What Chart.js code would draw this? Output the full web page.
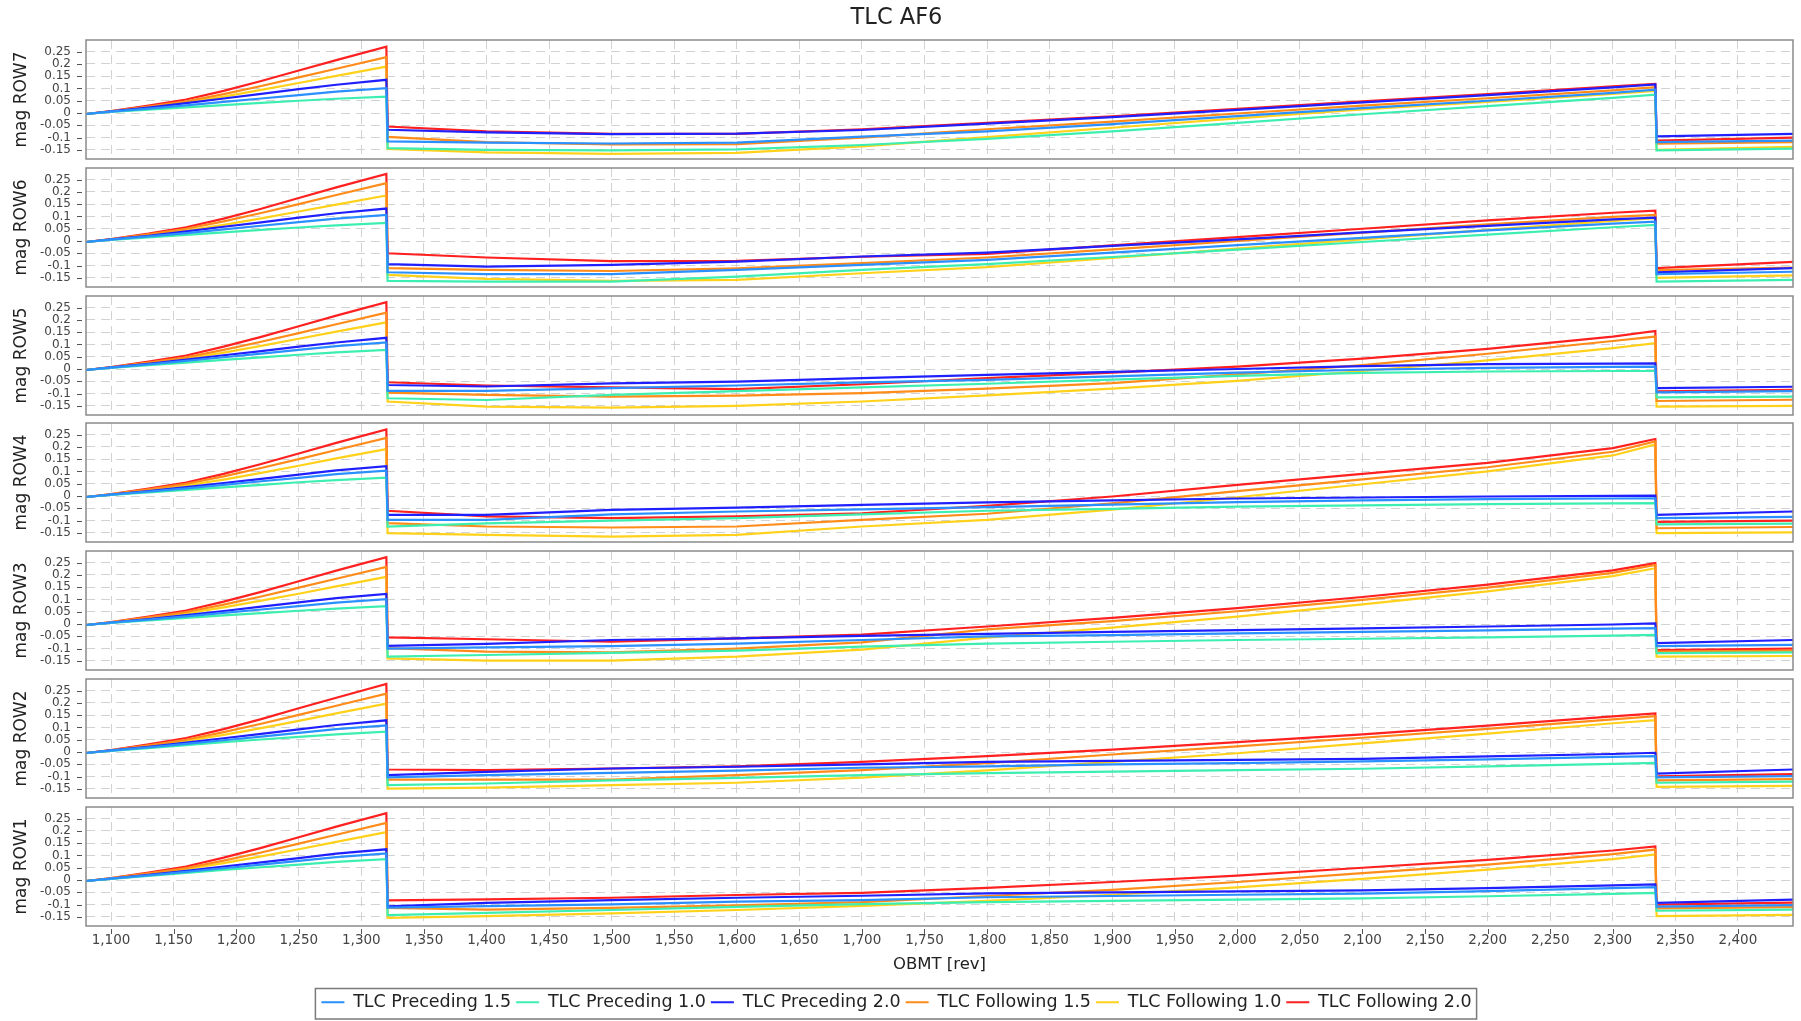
<!DOCTYPE html>
<html>
<head>
<meta charset="utf-8">
<title>TLC AF6</title>
<script src="https://cdn.jsdelivr.net/npm/chart.js@4.4.1/dist/chart.umd.min.js"></script>
<style>
  html, body { margin: 0; padding: 0; background: #fff; }
  #wrap { position: relative; width: 1801px; height: 1021px; overflow: hidden; }
  #wrap canvas { position: absolute; left: 0; }
</style>
</head>
<body>
<div id="wrap"></div>
<script>
// OBMT sample positions [rev]
const obmt = [1080, 1100, 1130, 1160, 1190, 1220, 1250, 1280, 1320, 1321,
  1400, 1500, 1600, 1700, 1800, 1900, 2000, 2100, 2200, 2300, 2334, 2335, 2444];

const seriesNames = ['TLC Preceding 1.5', 'TLC Preceding 1.0', 'TLC Preceding 2.0',
  'TLC Following 1.5', 'TLC Following 1.0', 'TLC Following 2.0'];
const seriesColors = ['#2a8fff', '#3cefb0', '#2020ff', '#ff8c1a', '#ffd11a', '#ff2020'];

const rowNames = ['mag ROW7', 'mag ROW6', 'mag ROW5', 'mag ROW4', 'mag ROW3', 'mag ROW2', 'mag ROW1'];

// each row: one array per series, same order as seriesNames
const row7 = [
  [-0.004, 0.006, 0.018, 0.031, 0.045, 0.059, 0.073, 0.087, 0.101, -0.115, -0.120, -0.124, -0.120, -0.096, -0.075, -0.045, -0.013, 0.020, 0.050, 0.082, 0.095, -0.118, -0.112],
  [-0.004, 0.005, 0.014, 0.023, 0.032, 0.041, 0.050, 0.058, 0.067, -0.143, -0.150, -0.152, -0.148, -0.130, -0.105, -0.075, -0.040, -0.005, 0.028, 0.062, 0.075, -0.152, -0.145],
  [-0.004, 0.007, 0.022, 0.040, 0.059, 0.078, 0.097, 0.115, 0.135, -0.068, -0.079, -0.086, -0.084, -0.069, -0.043, -0.017, 0.013, 0.043, 0.073, 0.104, 0.116, -0.095, -0.085],
  [-0.004, 0.007, 0.026, 0.048, 0.077, 0.110, 0.145, 0.180, 0.227, -0.097, -0.118, -0.128, -0.127, -0.100, -0.066, -0.035, -0.002, 0.030, 0.060, 0.092, 0.105, -0.125, -0.118],
  [-0.004, 0.007, 0.024, 0.043, 0.067, 0.094, 0.122, 0.151, 0.189, -0.146, -0.160, -0.166, -0.162, -0.136, -0.098, -0.060, -0.022, 0.015, 0.045, 0.078, 0.090, -0.150, -0.138],
  [-0.004, 0.008, 0.030, 0.055, 0.090, 0.130, 0.173, 0.215, 0.270, -0.055, -0.075, -0.085, -0.085, -0.066, -0.040, -0.014, 0.017, 0.047, 0.077, 0.108, 0.118, -0.112, -0.100]
];
const row6 = [
  [-0.004, 0.006, 0.019, 0.032, 0.047, 0.062, 0.077, 0.091, 0.106, -0.127, -0.135, -0.135, -0.117, -0.097, -0.077, -0.047, -0.017, 0.013, 0.043, 0.071, 0.079, -0.135, -0.125],
  [-0.004, 0.005, 0.015, 0.025, 0.035, 0.045, 0.055, 0.064, 0.074, -0.162, -0.165, -0.165, -0.145, -0.117, -0.094, -0.065, -0.035, -0.004, 0.026, 0.056, 0.066, -0.165, -0.158],
  [-0.004, 0.007, 0.021, 0.039, 0.058, 0.076, 0.095, 0.113, 0.132, -0.094, -0.104, -0.097, -0.084, -0.063, -0.047, -0.020, 0.007, 0.035, 0.062, 0.088, 0.095, -0.127, -0.110],
  [-0.004, 0.007, 0.027, 0.050, 0.080, 0.114, 0.150, 0.187, 0.235, -0.110, -0.117, -0.122, -0.111, -0.090, -0.067, -0.034, 0.000, 0.034, 0.068, 0.098, 0.106, -0.118, -0.108],
  [-0.004, 0.007, 0.024, 0.042, 0.066, 0.092, 0.120, 0.148, 0.185, -0.138, -0.154, -0.162, -0.158, -0.131, -0.106, -0.069, -0.031, 0.007, 0.045, 0.082, 0.093, -0.150, -0.140],
  [-0.004, 0.008, 0.030, 0.056, 0.091, 0.131, 0.175, 0.218, 0.273, -0.050, -0.067, -0.082, -0.081, -0.064, -0.052, -0.018, 0.016, 0.050, 0.084, 0.115, 0.124, -0.110, -0.085]
];
const row5 = [
  [-0.004, 0.006, 0.019, 0.033, 0.048, 0.063, 0.078, 0.093, 0.108, -0.089, -0.089, -0.078, -0.067, -0.054, -0.044, -0.030, -0.015, -0.003, 0.005, 0.009, 0.010, -0.095, -0.090],
  [-0.004, 0.005, 0.016, 0.026, 0.037, 0.047, 0.058, 0.068, 0.078, -0.119, -0.126, -0.105, -0.090, -0.075, -0.060, -0.043, -0.028, -0.016, -0.010, -0.008, -0.008, -0.115, -0.112],
  [-0.004, 0.007, 0.021, 0.038, 0.056, 0.073, 0.091, 0.108, 0.127, -0.065, -0.071, -0.058, -0.051, -0.037, -0.024, -0.012, 0.000, 0.012, 0.020, 0.022, 0.023, -0.078, -0.072],
  [-0.004, 0.007, 0.026, 0.048, 0.078, 0.111, 0.146, 0.182, 0.229, -0.096, -0.105, -0.112, -0.108, -0.098, -0.080, -0.057, -0.022, 0.016, 0.062, 0.114, 0.132, -0.130, -0.125],
  [-0.004, 0.007, 0.024, 0.043, 0.067, 0.094, 0.123, 0.152, 0.190, -0.132, -0.153, -0.157, -0.150, -0.132, -0.107, -0.080, -0.048, -0.008, 0.035, 0.085, 0.105, -0.153, -0.150],
  [-0.004, 0.008, 0.030, 0.055, 0.091, 0.131, 0.174, 0.217, 0.272, -0.054, -0.067, -0.075, -0.082, -0.062, -0.037, -0.015, 0.010, 0.042, 0.082, 0.132, 0.155, -0.091, -0.085]
];
const row4 = [
  [-0.004, 0.006, 0.018, 0.031, 0.045, 0.060, 0.074, 0.089, 0.103, -0.097, -0.097, -0.075, -0.063, -0.054, -0.045, -0.035, -0.025, -0.018, -0.013, -0.010, -0.009, -0.090, -0.085],
  [-0.004, 0.005, 0.015, 0.025, 0.035, 0.045, 0.056, 0.065, 0.075, -0.124, -0.111, -0.100, -0.090, -0.075, -0.060, -0.052, -0.043, -0.038, -0.033, -0.030, -0.029, -0.115, -0.112],
  [-0.004, 0.006, 0.020, 0.036, 0.053, 0.070, 0.087, 0.104, 0.121, -0.077, -0.077, -0.056, -0.047, -0.036, -0.026, -0.018, -0.010, -0.006, -0.002, 0.001, 0.002, -0.077, -0.063],
  [-0.004, 0.007, 0.027, 0.050, 0.080, 0.114, 0.150, 0.187, 0.236, -0.110, -0.124, -0.128, -0.124, -0.097, -0.072, -0.030, 0.020, 0.068, 0.117, 0.180, 0.222, -0.131, -0.126],
  [-0.004, 0.007, 0.024, 0.043, 0.067, 0.094, 0.123, 0.153, 0.191, -0.151, -0.158, -0.165, -0.158, -0.124, -0.097, -0.055, -0.005, 0.048, 0.100, 0.165, 0.210, -0.151, -0.148],
  [-0.004, 0.008, 0.030, 0.055, 0.090, 0.130, 0.173, 0.216, 0.271, -0.060, -0.083, -0.090, -0.083, -0.070, -0.040, -0.002, 0.045, 0.090, 0.135, 0.195, 0.232, -0.105, -0.100]
];
const row3 = [
  [-0.004, 0.006, 0.018, 0.031, 0.045, 0.059, 0.073, 0.087, 0.101, -0.100, -0.095, -0.090, -0.080, -0.065, -0.050, -0.045, -0.038, -0.032, -0.026, -0.019, -0.017, -0.090, -0.085],
  [-0.004, 0.005, 0.015, 0.025, 0.035, 0.044, 0.054, 0.063, 0.073, -0.133, -0.126, -0.117, -0.108, -0.092, -0.080, -0.072, -0.065, -0.060, -0.054, -0.047, -0.044, -0.118, -0.115],
  [-0.004, 0.006, 0.020, 0.036, 0.053, 0.071, 0.088, 0.105, 0.122, -0.089, -0.081, -0.065, -0.058, -0.048, -0.040, -0.032, -0.025, -0.018, -0.010, -0.002, 0.003, -0.078, -0.065],
  [-0.004, 0.007, 0.027, 0.049, 0.079, 0.112, 0.148, 0.184, 0.232, -0.098, -0.112, -0.115, -0.100, -0.075, -0.022, 0.012, 0.052, 0.098, 0.148, 0.208, 0.240, -0.112, -0.108],
  [-0.004, 0.007, 0.024, 0.043, 0.068, 0.095, 0.123, 0.153, 0.192, -0.140, -0.149, -0.149, -0.133, -0.104, -0.055, -0.015, 0.030, 0.080, 0.133, 0.195, 0.227, -0.133, -0.130],
  [-0.004, 0.008, 0.030, 0.055, 0.091, 0.131, 0.174, 0.217, 0.272, -0.054, -0.062, -0.072, -0.058, -0.043, -0.010, 0.025, 0.065, 0.110, 0.160, 0.218, 0.248, -0.106, -0.100]
];
const row2 = [
  [-0.004, 0.006, 0.019, 0.033, 0.048, 0.063, 0.078, 0.093, 0.108, -0.103, -0.094, -0.085, -0.076, -0.064, -0.058, -0.050, -0.045, -0.038, -0.030, -0.020, -0.017, -0.103, -0.098],
  [-0.004, 0.005, 0.016, 0.028, 0.040, 0.051, 0.062, 0.072, 0.083, -0.135, -0.128, -0.115, -0.105, -0.094, -0.086, -0.080, -0.074, -0.068, -0.058, -0.048, -0.044, -0.125, -0.120],
  [-0.004, 0.007, 0.021, 0.038, 0.056, 0.074, 0.092, 0.110, 0.129, -0.094, -0.081, -0.067, -0.060, -0.050, -0.040, -0.036, -0.032, -0.028, -0.018, -0.008, -0.003, -0.088, -0.071],
  [-0.004, 0.007, 0.027, 0.050, 0.081, 0.115, 0.151, 0.188, 0.237, -0.112, -0.112, -0.112, -0.094, -0.074, -0.045, -0.010, 0.023, 0.058, 0.094, 0.133, 0.146, -0.115, -0.110],
  [-0.004, 0.007, 0.025, 0.045, 0.070, 0.097, 0.127, 0.157, 0.197, -0.149, -0.145, -0.135, -0.125, -0.104, -0.075, -0.040, -0.005, 0.035, 0.075, 0.117, 0.130, -0.142, -0.138],
  [-0.004, 0.008, 0.031, 0.057, 0.093, 0.134, 0.178, 0.221, 0.277, -0.071, -0.074, -0.067, -0.058, -0.040, -0.017, 0.010, 0.040, 0.072, 0.107, 0.145, 0.157, -0.099, -0.090]
];
const row1 = [
  [-0.004, 0.006, 0.019, 0.033, 0.048, 0.063, 0.078, 0.093, 0.108, -0.112, -0.106, -0.099, -0.088, -0.082, -0.070, -0.065, -0.060, -0.055, -0.045, -0.033, -0.029, -0.108, -0.102],
  [-0.004, 0.005, 0.017, 0.029, 0.041, 0.052, 0.063, 0.074, 0.085, -0.143, -0.134, -0.122, -0.109, -0.098, -0.090, -0.085, -0.080, -0.075, -0.066, -0.056, -0.052, -0.125, -0.120],
  [-0.004, 0.006, 0.021, 0.037, 0.055, 0.072, 0.089, 0.107, 0.125, -0.107, -0.093, -0.082, -0.072, -0.064, -0.054, -0.050, -0.046, -0.042, -0.033, -0.022, -0.018, -0.093, -0.080],
  [-0.004, 0.007, 0.027, 0.049, 0.079, 0.112, 0.148, 0.184, 0.232, -0.113, -0.120, -0.113, -0.103, -0.090, -0.065, -0.040, -0.008, 0.028, 0.063, 0.105, 0.124, -0.115, -0.110],
  [-0.004, 0.007, 0.025, 0.044, 0.069, 0.096, 0.125, 0.155, 0.195, -0.154, -0.147, -0.136, -0.122, -0.105, -0.085, -0.060, -0.030, 0.005, 0.042, 0.085, 0.104, -0.147, -0.142],
  [-0.004, 0.008, 0.030, 0.055, 0.091, 0.131, 0.174, 0.217, 0.272, -0.083, -0.079, -0.072, -0.061, -0.052, -0.032, -0.008, 0.018, 0.050, 0.082, 0.120, 0.137, -0.100, -0.092]
];
const rows = [row7, row6, row5, row4, row3, row2, row1];

// axis ranges
const X_MIN = 1080, X_MAX = 2444;
const Y_MIN = -0.187, Y_MAX = 0.297;

// page layout
const PAGE_W = 1801, PAGE_H = 1021;
const PLOT_LEFT = 86, PLOT_RIGHT = 1793;
const PANEL_TOP = [40, 168, 296, 423, 551, 679, 807];
const PANEL_H = 119;
const PAD = 26; // must exceed half a y label + tick padding, or Chart.js shrinks the plot
const LEGEND_FONT = 17.5, LEGEND_PAD = 5;
const LEGEND_H = LEGEND_FONT + LEGEND_PAD + 10; // height Chart.js gives a one-row legend

Chart.defaults.font.family = "'DejaVu Sans', sans-serif";
Chart.defaults.color = '#333';

const GRID_COLOR = '#d2d2d2';
const GRID_DASH = [9, 6];

// grey outline round each plot area, tick marks set a little off the frame
const outlinePlugin = {
    id: 'plotOutline',
    afterDraw(chart) {
        const { ctx, chartArea: a } = chart;
        ctx.save();
        ctx.strokeStyle = '#8a8a8a';
        ctx.lineWidth = 1.5;
        ctx.strokeRect(a.left, a.top, a.right - a.left, a.bottom - a.top);

        ctx.strokeStyle = '#555';
        ctx.lineWidth = 1;
        ctx.beginPath();
        const ys = chart.scales.y;
        ys.ticks.forEach((t) => {
            const py = Math.round(ys.getPixelForValue(t.value)) + 0.5;
            ctx.moveTo(a.left - 9, py);
            ctx.lineTo(a.left - 4, py);
        });
        const xs = chart.scales.x;
        if (xs.options.ticks.display) {
            xs.ticks.forEach((t) => {
                const px = Math.round(xs.getPixelForValue(t.value)) + 0.5;
                ctx.moveTo(px, a.bottom + 3);
                ctx.lineTo(px, a.bottom + 8);
            });
        }
        ctx.stroke();
        ctx.restore();
    }
};

// frame round the legend items
const legendBoxPlugin = {
    id: 'legendBox',
    afterDraw(chart) {
        if (!chart.options.plugins.legend.display) return;
        const boxes = chart.legend && chart.legend.legendHitBoxes;
        if (!boxes || !boxes.length) return;
        const x0 = Math.min(...boxes.map((b) => b.left)) - 6;
        const x1 = Math.max(...boxes.map((b) => b.left + b.width)) + 5;
        const y0 = boxes[0].top - 5;
        const y1 = boxes[0].top + boxes[0].height + 8;
        const ctx = chart.ctx;
        ctx.save();
        ctx.strokeStyle = '#7a7a7a';
        ctx.lineWidth = 1.5;
        ctx.strokeRect(x0, y0, x1 - x0, y1 - y0);
        ctx.restore();
    }
};

const wrap = document.getElementById('wrap');

function buildPanel(k) {
    const isFirst = k === 0;
    const isLast = k === rows.length - 1;
    const top = isFirst ? 0 : PANEL_TOP[k] - PAD;
    const height = isLast ? PAGE_H - top : PANEL_TOP[k] + PANEL_H + PAD - top;
    const xAxisH = PAGE_H - LEGEND_H - (PANEL_TOP[k] + PANEL_H);

    const canvas = document.createElement('canvas');
    canvas.width = PAGE_W;
    canvas.height = height;
    canvas.style.top = top + 'px';
    wrap.appendChild(canvas);

    const datasets = seriesNames.map((name, s) => ({
        label: name,
        data: obmt.map((x, i) => ({ x: x, y: rows[k][s][i] })),
        borderColor: seriesColors[s],
        backgroundColor: seriesColors[s],
        borderWidth: 2.2,
        pointRadius: 0,
        fill: false,
        tension: 0
    }));

    new Chart(canvas, {
        type: 'line',
        data: { datasets: datasets },
        options: {
            responsive: false,
            animation: false,
            events: [],
            layout: {
                padding: {
                    left: 0,
                    right: PAGE_W - PLOT_RIGHT,
                    top: isFirst ? 0 : PAD,
                    bottom: isLast ? 0 : PAD
                }
            },
            plugins: {
                title: {
                    display: isFirst,
                    text: 'TLC AF6',
                    color: '#222',
                    font: { size: 22.5, weight: 'normal' },
                    padding: { top: 5, bottom: 8 }
                },
                legend: {
                    display: isLast,
                    position: 'bottom',
                    labels: {
                        usePointStyle: true,
                        pointStyle: 'line',
                        pointStyleWidth: 23,
                        color: '#222',
                        font: { size: LEGEND_FONT },
                        padding: LEGEND_PAD
                    }
                },
                tooltip: { enabled: false }
            },
            scales: {
                x: {
                    type: 'linear',
                    min: X_MIN,
                    max: X_MAX,
                    ticks: {
                        display: isLast,
                        stepSize: 50,
                        includeBounds: false,
                        maxTicksLimit: 100,
                        autoSkip: false,
                        maxRotation: 0,
                        color: '#444',
                        font: { size: 13.5 },
                        padding: 6,
                        callback: (v) => Number(v).toLocaleString('en-US')
                    },
                    grid: {
                        color: GRID_COLOR,
                        drawTicks: false
                    },
                    border: { display: false, dash: GRID_DASH },
                    title: {
                        display: isLast,
                        text: 'OBMT [rev]',
                        color: '#222',
                        font: { size: 16.5 },
                        padding: { top: 4, bottom: 13.5 }
                    },
                    afterFit: (scale) => { scale.height = isLast ? xAxisH : 0; }
                },
                y: {
                    min: Y_MIN,
                    max: Y_MAX,
                    ticks: {
                        stepSize: 0.05,
                        includeBounds: false,
                        autoSkip: false,
                        color: '#444',
                        font: { size: 12 },
                        padding: 15,
                        callback: (v) => String(Math.round(v * 100) / 100)
                    },
                    grid: {
                        color: GRID_COLOR,
                        drawTicks: false
                    },
                    border: { display: false, dash: GRID_DASH },
                    title: {
                        display: true,
                        text: rowNames[k],
                        color: '#222',
                        font: { size: 17 },
                        padding: { top: 11, bottom: 0 }
                    },
                    afterFit: (scale) => { scale.width = PLOT_LEFT; }
                }
            }
        },
        plugins: [outlinePlugin, legendBoxPlugin]
    });
}

rows.forEach((r, k) => buildPanel(k));
</script>
</body>
</html>
